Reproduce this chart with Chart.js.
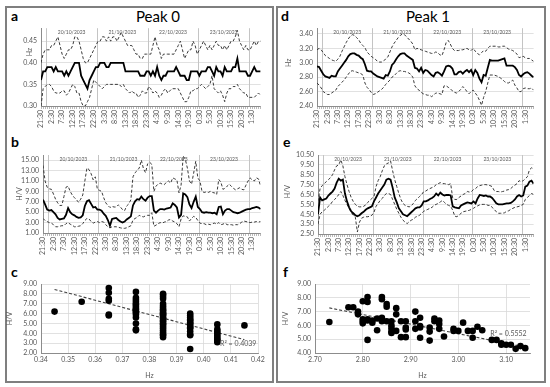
<!DOCTYPE html>
<html>
<head>
<meta charset="utf-8">
<script src="https://cdn.jsdelivr.net/npm/chart.js@4.4.1/dist/chart.umd.min.js"></script>
<style>
    body { margin: 0; background: #fff; width: 550px; height: 387px; position: relative; overflow: hidden; font-family: Lato, "Liberation Sans", sans-serif; }
    .frame { position: absolute; border: 2px solid #7f7f7f; box-sizing: border-box; }
    canvas { position: absolute; }
    .tag { position: absolute; font-weight: bold; font-size: 14px; line-height: 14px; color: #000; }
    .ttl { position: absolute; font-size: 15px; line-height: 15px; color: #000; transform: translateX(-50%); white-space: nowrap; }
</style>
</head>
<body>
<div class="frame" style="left:5px;top:6px;width:269px;height:377px"></div>
<div class="frame" style="left:276px;top:6px;width:270px;height:377px"></div>
<div class="tag" style="left:11px;top:9px">a</div>
<div class="tag" style="left:11px;top:135px">b</div>
<div class="tag" style="left:11px;top:265px">c</div>
<div class="tag" style="left:281px;top:9px">d</div>
<div class="tag" style="left:283px;top:135px">e</div>
<div class="tag" style="left:283px;top:265px">f</div>
<div class="ttl" style="left:158px;top:9px">Peak 0</div>
<div class="ttl" style="left:428px;top:9px">Peak 1</div>
<canvas id="chartA"></canvas>
<canvas id="chartB"></canvas>
<canvas id="chartC"></canvas>
<canvas id="chartD"></canvas>
<canvas id="chartE"></canvas>
<canvas id="chartF"></canvas>
<script>
// hourly series, 21:30 on 19/10/2023 to 5:30 on 24/10/2023
const timeLabels = ['21:30', '2:30', '7:30', '12:30', '17:30', '22:30', '3:30', '8:30', '13:30', '18:30', '23:30',
    '4:30', '9:30', '14:30', '19:30', '0:30', '5:30', '10:30', '15:30', '20:30', '1:30'];
const dayLabels = ['20/10/2023', '21/10/2023', '22/10/2023', '23/10/2023'];
const midnights = [2.5, 26.5, 50.5, 74.5, 98.5]; // hours after the first sample

// Peak 0 - frequency (Hz)
const aMean = [0.36, 0.38, 0.38, 0.39, 0.39, 0.39, 0.38, 0.39, 0.38, 0.38,
    0.38, 0.37, 0.38, 0.37, 0.38, 0.39, 0.40, 0.40, 0.40, 0.37,
    0.36, 0.35, 0.34, 0.36, 0.37, 0.38, 0.39, 0.39, 0.40, 0.40,
    0.40, 0.39, 0.39, 0.40, 0.40, 0.40, 0.40, 0.40, 0.40, 0.40,
    0.38, 0.38, 0.38, 0.38, 0.38, 0.38, 0.38, 0.37, 0.37, 0.37,
    0.38, 0.38, 0.37, 0.38, 0.37, 0.39, 0.37, 0.36, 0.37, 0.37,
    0.38, 0.38, 0.38, 0.38, 0.39, 0.38, 0.37, 0.37, 0.37, 0.36,
    0.36, 0.38, 0.38, 0.38, 0.38, 0.37, 0.38, 0.38, 0.38, 0.39,
    0.39, 0.38, 0.37, 0.39, 0.38, 0.38, 0.37, 0.39, 0.38, 0.38,
    0.38, 0.39, 0.39, 0.41, 0.38, 0.38, 0.38, 0.38, 0.37, 0.37,
    0.38, 0.39, 0.38, 0.38, 0.38];
const aUpper = [0.40, 0.42, 0.43, 0.43, 0.43, 0.44, 0.44, 0.45, 0.46, 0.44,
    0.42, 0.41, 0.42, 0.43, 0.43, 0.44, 0.46, 0.46, 0.45, 0.43,
    0.41, 0.40, 0.40, 0.41, 0.42, 0.43, 0.44, 0.45, 0.45, 0.46,
    0.46, 0.45, 0.46, 0.45, 0.46, 0.46, 0.45, 0.46, 0.47, 0.46,
    0.45, 0.44, 0.44, 0.44, 0.43, 0.42, 0.42, 0.41, 0.41, 0.42,
    0.42, 0.42, 0.42, 0.44, 0.46, 0.44, 0.43, 0.41, 0.42, 0.42,
    0.42, 0.42, 0.42, 0.42, 0.43, 0.44, 0.45, 0.43, 0.41, 0.42,
    0.43, 0.43, 0.45, 0.44, 0.42, 0.43, 0.44, 0.45, 0.44, 0.43,
    0.44, 0.43, 0.44, 0.45, 0.44, 0.44, 0.43, 0.44, 0.43, 0.44,
    0.45, 0.45, 0.46, 0.475, 0.45, 0.44, 0.43, 0.44, 0.43, 0.43,
    0.44, 0.45, 0.44, 0.45, 0.45];
const aLower = [0.30, 0.34, 0.345, 0.35, 0.35, 0.345, 0.335, 0.33, 0.33, 0.33,
    0.335, 0.335, 0.325, 0.33, 0.34, 0.35, 0.345, 0.33, 0.33, 0.31,
    0.30, 0.30, 0.31, 0.32, 0.34, 0.36, 0.355, 0.35, 0.345, 0.34,
    0.345, 0.35, 0.35, 0.35, 0.35, 0.35, 0.35, 0.35, 0.345, 0.35,
    0.34, 0.335, 0.33, 0.335, 0.33, 0.33, 0.32, 0.325, 0.335, 0.33,
    0.33, 0.345, 0.34, 0.33, 0.335, 0.33, 0.32, 0.325, 0.335, 0.34,
    0.33, 0.335, 0.34, 0.34, 0.34, 0.34, 0.33, 0.32, 0.31, 0.31,
    0.32, 0.335, 0.335, 0.34, 0.34, 0.345, 0.35, 0.345, 0.34, 0.345,
    0.35, 0.37, 0.34, 0.335, 0.33, 0.335, 0.325, 0.31, 0.33, 0.34,
    0.34, 0.345, 0.345, 0.35, 0.34, 0.335, 0.33, 0.33, 0.32, 0.32,
    0.32, 0.32, 0.325, 0.33, 0.325];

// Peak 0 - amplitude (H/V)
const bMean = [7.4, 6.5, 5.5, 5.3, 5.4, 5.0, 4.6, 3.9, 3.6, 3.7,
    3.8, 4.5, 5.8, 5.0, 4.6, 4.4, 4.1, 3.9, 4.0, 4.4,
    6.2, 7.1, 7.3, 6.6, 5.9, 6.0, 5.5, 5.5, 5.3, 4.7,
    4.3, 3.5, 2.4, 3.7, 3.8, 3.9, 3.5, 3.2, 3.0, 3.2,
    3.6, 3.9, 4.2, 6.3, 7.1, 7.5, 7.4, 8.0, 7.5, 7.2,
    7.8, 8.1, 8.1, 5.3, 4.9, 5.3, 5.6, 5.6, 5.5, 5.7,
    5.8, 5.9, 6.7, 6.4, 5.9, 4.0, 4.5, 8.6, 8.4, 7.9,
    6.5, 5.8, 7.0, 8.0, 6.0, 5.6, 5.0, 4.9, 5.0, 4.9,
    4.9, 4.8, 4.9, 4.6, 6.0, 6.1, 4.6, 5.3, 5.6, 5.6,
    5.3, 5.0, 4.9, 4.8, 4.9, 5.1, 5.3, 5.5, 5.6, 5.6,
    5.8, 5.9, 6.0, 5.9, 5.6];
const bUpper = [14.0, 11.0, 9.8, 9.5, 9.4, 8.5, 7.5, 6.8, 6.3, 6.3,
    8.0, 9.8, 10.0, 9.0, 8.3, 7.8, 7.4, 6.9, 7.5, 8.3,
    11.0, 13.5, 13.2, 12.4, 11.2, 11.8, 9.4, 9.2, 9.0, 7.8,
    6.8, 6.3, 5.9, 6.1, 6.0, 6.0, 6.4, 6.0, 5.5, 5.3,
    6.2, 6.6, 7.4, 11.8, 12.6, 13.0, 13.5, 15.0, 13.4, 12.6,
    14.3, 14.6, 14.2, 9.0, 10.0, 10.4, 10.6, 10.4, 10.3, 10.8,
    11.0, 10.6, 11.6, 11.4, 11.2, 8.7, 10.2, 15.8, 15.2, 13.5,
    11.0, 10.4, 12.5, 14.8, 11.6, 11.0, 9.0, 8.8, 8.9, 8.8,
    9.0, 8.8, 8.7, 8.4, 11.3, 10.8, 9.4, 9.6, 10.0, 10.4,
    10.0, 9.6, 9.3, 9.5, 9.7, 9.4, 9.3, 10.2, 11.0, 11.6,
    11.2, 11.0, 11.6, 11.4, 10.0];
const bLower = [3.8, 3.4, 3.2, 3.0, 2.9, 2.6, 2.2, 2.2, 2.3, 2.4,
    2.4, 2.8, 3.0, 2.7, 2.5, 2.2, 2.2, 2.3, 2.4, 2.8,
    3.4, 3.8, 3.7, 3.2, 2.9, 3.1, 3.2, 3.0, 3.2, 3.1,
    2.6, 2.2, 2.0, 2.2, 2.2, 2.2, 2.1, 2.0, 1.9, 1.9,
    2.0, 2.2, 2.4, 3.5, 3.8, 4.0, 4.4, 4.2, 4.1, 4.3,
    4.4, 4.4, 4.9, 2.3, 2.5, 2.8, 3.0, 2.9, 3.1, 3.2,
    3.5, 3.6, 3.3, 3.1, 2.8, 2.2, 3.7, 4.3, 4.2, 4.1,
    3.3, 3.8, 4.2, 4.0, 3.4, 2.9, 2.8, 2.8, 2.6, 2.7,
    2.6, 2.8, 2.9, 2.7, 3.0, 2.6, 2.7, 2.9, 2.6, 2.6,
    2.6, 2.5, 2.6, 2.6, 2.8, 3.1, 3.3, 3.2, 3.1, 3.0,
    3.1, 3.1, 3.2, 3.1, 3.2];

// Peak 1 - frequency (Hz)
const dMean = [2.95, 2.94, 2.89, 2.84, 2.81, 2.80, 2.79, 2.82, 2.81, 2.81,
    2.88, 2.92, 2.96, 3.00, 3.04, 3.09, 3.12, 3.13, 3.13, 3.11,
    3.10, 3.07, 3.05, 2.98, 2.89, 2.88, 2.88, 2.85, 2.83, 2.81,
    2.80, 2.79, 2.78, 2.83, 2.82, 2.88, 2.97, 3.00, 3.05, 3.09,
    3.12, 3.13, 3.13, 3.10, 3.08, 3.06, 3.04, 2.93, 2.92, 2.88,
    2.93, 2.86, 2.90, 2.89, 2.86, 2.83, 2.81, 2.86, 2.87, 2.85,
    2.82, 2.88, 2.95, 2.96, 2.95, 2.92, 2.84, 2.84, 2.87, 2.88,
    2.85, 2.88, 2.90, 2.87, 2.90, 2.83, 2.90, 2.86, 2.78, 2.73,
    2.83, 2.82, 2.93, 3.04, 3.03, 3.03, 3.03, 3.03, 3.04, 3.05,
    3.06, 2.96, 2.96, 2.96, 2.96, 2.94, 2.90, 2.83, 2.81, 2.84,
    2.86, 2.87, 2.85, 2.82, 2.80];
const dUpper = [3.18, 3.20, 3.18, 3.14, 3.10, 3.08, 3.06, 3.04, 3.03, 3.02,
    3.05, 3.09, 3.16, 3.22, 3.28, 3.33, 3.37, 3.39, 3.38, 3.35,
    3.32, 3.27, 3.24, 3.21, 3.15, 3.12, 3.09, 3.07, 3.05, 3.02,
    3.01, 3.01, 3.03, 3.05, 3.08, 3.15, 3.22, 3.27, 3.31, 3.35,
    3.38, 3.40, 3.39, 3.36, 3.33, 3.30, 3.26, 3.18, 3.20, 3.19,
    3.18, 3.17, 3.16, 3.15, 3.14, 3.13, 3.13, 3.15, 3.14, 3.11,
    3.10, 3.18, 3.28, 3.31, 3.26, 3.20, 3.17, 3.17, 3.17, 3.18,
    3.18, 3.19, 3.20, 3.18, 3.17, 3.20, 3.16, 3.13, 3.11, 3.14,
    3.17, 3.16, 3.20, 3.23, 3.23, 3.23, 3.23, 3.22, 3.22, 3.23,
    3.23, 3.21, 3.19, 3.18, 3.17, 3.15, 3.12, 3.07, 3.08, 3.09,
    3.07, 3.06, 3.06, 3.04, 3.02];
const dLower = [2.72, 2.69, 2.65, 2.60, 2.58, 2.56, 2.56, 2.58, 2.60, 2.62,
    2.67, 2.70, 2.73, 2.76, 2.80, 2.84, 2.88, 2.89, 2.88, 2.87,
    2.86, 2.85, 2.83, 2.72, 2.66, 2.63, 2.59, 2.56, 2.57, 2.59,
    2.61, 2.63, 2.66, 2.70, 2.73, 2.76, 2.80, 2.82, 2.85, 2.88,
    2.89, 2.88, 2.88, 2.87, 2.86, 2.84, 2.80, 2.68, 2.64, 2.62,
    2.59, 2.57, 2.56, 2.55, 2.55, 2.53, 2.55, 2.58, 2.58, 2.57,
    2.56, 2.68, 2.68, 2.66, 2.64, 2.61, 2.59, 2.58, 2.60, 2.63,
    2.67, 2.64, 2.60, 2.57, 2.60, 2.62, 2.58, 2.54, 2.48, 2.41,
    2.52, 2.60, 2.72, 2.83, 2.83, 2.83, 2.82, 2.81, 2.79, 2.77,
    2.74, 2.72, 2.72, 2.74, 2.76, 2.69, 2.65, 2.60, 2.60, 2.64,
    2.65, 2.64, 2.64, 2.65, 2.62];

// Peak 1 - amplitude (H/V)
const eMean = [4.5, 6.2, 5.9, 6.0, 6.1, 6.4, 6.6, 6.8, 7.1, 7.7,
    8.1, 7.9, 8.0, 6.6, 5.8, 5.2, 4.8, 4.6, 4.4, 4.3,
    4.4, 4.6, 4.75, 4.95, 5.1, 5.2, 5.3, 5.8, 6.2, 6.6,
    6.9, 7.2, 7.5, 8.0, 8.1, 8.0, 7.2, 6.2, 5.7, 5.1,
    4.8, 4.5, 4.4, 4.3, 4.5, 4.7, 4.9, 5.1, 5.2, 5.2,
    5.4, 5.8, 5.8, 5.9, 6.05, 6.15, 6.3, 6.6, 6.4, 6.7,
    6.5, 6.4, 6.45, 6.45, 6.4, 5.3, 5.2, 5.15, 5.1, 5.4,
    5.5, 5.6, 5.7, 5.65, 5.6, 5.8, 5.6, 6.1, 6.45, 6.4,
    6.35, 6.4, 6.3, 6.3, 6.15, 5.9, 5.6, 5.5, 5.5, 5.5,
    5.55, 5.6, 5.6, 5.65, 5.8, 6.0, 6.3, 6.45, 6.3, 6.4,
    7.3, 7.4, 7.8, 7.9, 7.6];
const eUpper = [5.8, 7.1, 7.4, 7.6, 7.8, 8.0, 8.2, 8.5, 9.0, 9.4,
    9.5, 10.0, 9.4, 8.3, 7.5, 6.8, 6.2, 5.8, 5.5, 5.3,
    5.25, 5.25, 5.3, 5.45, 5.7, 5.9, 6.1, 6.3, 7.3, 7.9,
    8.3, 8.9, 9.4, 9.6, 9.7, 9.9, 8.9, 8.0, 7.3, 6.6,
    6.0, 5.6, 5.4, 5.3, 5.25, 5.35, 5.6, 5.9, 6.1, 6.3,
    6.5, 6.8, 6.85, 7.0, 7.1, 7.2, 7.3, 7.5, 7.6, 7.7,
    7.6, 7.6, 7.55, 7.5, 7.6, 6.1, 6.0, 6.0, 6.2, 6.35,
    6.5, 6.6, 6.8, 6.75, 6.8, 7.0, 7.1, 7.3, 7.4, 7.45,
    7.5, 7.5, 7.45, 7.4, 7.3, 6.9, 6.8, 6.8, 6.75, 6.8,
    6.85, 6.95, 7.0, 7.1, 7.3, 7.45, 7.6, 7.9, 7.8, 7.9,
    8.1, 8.3, 9.0, 9.2, 9.1];
const eLower = [3.5, 4.5, 4.75, 4.9, 5.1, 5.3, 5.5, 5.8, 6.0, 6.2,
    6.5, 6.8, 6.4, 5.9, 5.5, 5.1, 4.7, 4.4, 4.2, 2.7,
    3.7, 4.1, 4.2, 4.25, 4.25, 4.3, 4.4, 4.7, 5.3, 5.6,
    5.9, 6.1, 6.4, 6.6, 6.6, 6.5, 6.0, 5.5, 5.0, 4.6,
    4.2, 3.9, 3.7, 3.55, 3.75, 3.9, 4.0, 4.2, 4.3, 4.4,
    4.6, 4.8, 4.9, 5.0, 5.1, 5.2, 5.4, 5.5, 5.6, 5.75,
    5.9, 5.7, 5.5, 5.4, 5.3, 4.9, 4.3, 4.25, 4.4, 4.6,
    4.75, 4.8, 4.85, 4.9, 5.0, 5.1, 5.25, 5.35, 5.45, 5.5,
    5.5, 5.5, 5.4, 5.4, 5.2, 5.0, 4.75, 4.6, 4.6, 4.6,
    4.65, 4.8, 4.85, 5.0, 5.1, 5.2, 5.25, 5.3, 5.4, 5.5,
    6.0, 6.2, 6.4, 6.6, 6.5];

// scatter c: Hz vs H/V, Peak 0
const cHz = [0.345, 0.355,
    0.365, 0.365, 0.365, 0.365, 0.365, 0.365,
    0.375, 0.375, 0.375, 0.375, 0.375, 0.375, 0.375, 0.375, 0.375, 0.375, 0.375, 0.375, 0.375, 0.375, 0.375, 0.375,
    0.385, 0.385, 0.385, 0.385, 0.385, 0.385, 0.385, 0.385, 0.385, 0.385, 0.385, 0.385, 0.385,
    0.385, 0.385, 0.385, 0.385, 0.385, 0.385, 0.385, 0.385, 0.385, 0.385, 0.385, 0.385, 0.385,
    0.395, 0.395, 0.395, 0.395, 0.395, 0.395, 0.395, 0.395, 0.395, 0.395, 0.395, 0.395, 0.395, 0.395,
    0.405, 0.405, 0.405, 0.405, 0.405, 0.405, 0.405, 0.405, 0.405,
    0.415];
const cHV = [6.2, 7.2,
    8.6, 8.1, 7.5, 7.3, 5.9, 5.8,
    8.2, 7.6, 7.4, 7.2, 7.0, 6.9, 6.7, 6.5, 6.4, 6.2, 6.1, 5.9, 5.6, 5.0, 4.4, 4.3,
    8.0, 7.9, 7.7, 7.5, 7.0, 6.8, 6.6, 6.4, 6.3, 6.1, 6.0, 5.9, 5.8,
    5.6, 5.5, 5.3, 5.2, 5.0, 4.9, 4.7, 4.5, 4.3, 4.1, 3.9, 3.8, 3.6,
    6.0, 5.8, 5.6, 5.4, 5.3, 5.1, 5.0, 4.8, 4.6, 4.5, 4.2, 3.9, 3.8, 2.4,
    4.9, 4.4, 4.2, 4.0, 3.8, 3.6, 3.4, 3.3, 3.1,
    4.8];
const cTrendHz = [0.345, 0.415];
const cTrendHV = [8.45, 3.35];

// scatter f: Hz vs H/V, Peak 1
const fHz = [2.73, 2.77, 2.78, 2.79, 2.79, 2.80, 2.80, 2.80, 2.80, 2.81, 2.81, 2.81, 2.81, 2.81,
    2.82, 2.82, 2.83, 2.83, 2.84, 2.84, 2.84, 2.84, 2.85, 2.85, 2.85,
    2.86, 2.86, 2.86, 2.86, 2.86, 2.87, 2.87, 2.87, 2.88, 2.88, 2.89, 2.89, 2.89, 2.89,
    2.91, 2.91, 2.91, 2.92, 2.92, 2.92, 2.92, 2.94, 2.94, 2.94, 2.95, 2.95,
    2.96, 2.96, 2.96, 2.97, 2.99, 2.99, 3.00, 3.01, 3.02, 3.03, 3.03, 3.04, 3.05,
    3.07, 3.08, 3.09, 3.09, 3.10, 3.11, 3.12, 3.13, 3.14];
const fHV = [6.25, 7.32, 7.32, 7.0, 6.8, 7.75, 6.45, 6.3, 6.15, 8.05, 7.7, 6.45, 6.35, 4.95,
    6.35, 6.2, 6.5, 5.65, 8.05, 7.9, 6.55, 6.3, 7.55, 7.35, 6.3,
    6.3, 6.0, 5.8, 5.55, 5.45, 7.25, 6.8, 5.6, 6.3, 5.15, 6.3, 5.85, 5.7, 5.15,
    7.0, 6.3, 5.75, 6.55, 5.95, 5.85, 5.1, 5.85, 5.55, 4.9, 6.5, 6.3,
    6.35, 6.1, 5.75, 5.2, 5.75, 5.6, 5.6, 6.2, 5.6, 5.6, 5.1, 5.9, 5.65,
    4.95, 4.95, 4.7, 4.6, 4.6, 4.6, 4.3, 4.5, 4.35];
const fTrendHz = [2.73, 3.14];
const fTrendHV = [7.27, 4.43];

const aTicks = [0.30, 0.35, 0.40, 0.45];
const bTicks = [1, 3, 5, 7, 9, 11, 13, 15];
const dTicks = [2.4, 2.6, 2.8, 3.0, 3.2, 3.4];
const eTicks = [2.5, 3.5, 4.5, 5.5, 6.5, 7.5, 8.5, 9.5, 10.5];
const cXTicks = [0.34, 0.35, 0.36, 0.37, 0.38, 0.39, 0.40, 0.41, 0.42];
const cYTicks = [2, 3, 4, 5, 6, 7, 8, 9];
const fXTicks = [2.7, 2.8, 2.9, 3.0, 3.1];
const fYTicks = [4, 5, 6, 7, 8, 9];

Chart.defaults.font.family = 'Lato, "Liberation Sans", sans-serif';
Chart.defaults.font.size = 7;
Chart.defaults.color = '#595959';

// canvas box (x, y, w, h), plot area (l, r, t, b), left edge of the y axis box (tx),
// y caption centre (cx) and the axis value it sits at (cAt)
const geo = {
    a: { x: 8, y: 20, w: 262, h: 114, l: 41, r: 263, t: 28, b: 106, tx: 23, cx: 30, cAt: 0.425 },
    b: { x: 8, y: 138, w: 262, h: 120, l: 43, r: 263, t: 155, b: 233, tx: 12, cx: 20, cAt: 8.5 },
    c: { x: 6, y: 270, w: 264, h: 110, l: 41, r: 258, t: 284, b: 353, tx: 6 },
    d: { x: 279, y: 20, w: 264, h: 114, l: 317, r: 538, t: 28, b: 106, tx: 281, cx: 289, cAt: 3.0 },
    e: { x: 279, y: 138, w: 264, h: 120, l: 318, r: 537, t: 155, b: 234, tx: 280, cx: 288, cAt: 6.8 },
    f: { x: 279, y: 270, w: 264, h: 110, l: 315, r: 530, t: 284, b: 353, tx: 282 }
};

function placeCanvas(id, g) {
    const c = document.getElementById(id);
    c.width = g.w;
    c.height = g.h;
    c.style.left = g.x + 'px';
    c.style.top = g.y + 'px';
    return c;
}

function layoutFor(g) {
    return { padding: { left: g.tx - g.x, right: g.x + g.w - g.r, top: g.t - g.y, bottom: 0 } };
}

// day separators and date captions inside the time plots
const daySplit = {
    id: 'daySplit',
    beforeDatasetsDraw(chart) {
        const { ctx, chartArea: a, scales: { x } } = chart;
        ctx.save();
        ctx.strokeStyle = '#c4c4c4';
        ctx.lineWidth = 1;
        midnights.forEach(h => {
            const px = Math.round(x.getPixelForValue(h)) + 0.5;
            ctx.beginPath();
            ctx.moveTo(px, a.top);
            ctx.lineTo(px, a.bottom);
            ctx.stroke();
        });
        ctx.fillStyle = '#595959';
        ctx.font = '5px Lato, "Liberation Sans", sans-serif';
        ctx.textAlign = 'center';
        ctx.textBaseline = 'top';
        dayLabels.forEach((d, k) => {
            const cx = (x.getPixelForValue(midnights[k]) + x.getPixelForValue(midnights[k + 1])) / 2;
            ctx.fillText(d, cx, a.top + 2);
        });
        ctx.restore();
    }
};

// rotated y caption for the time plots
const yCaption = {
    id: 'yCaption',
    afterDraw(chart, args, opts) {
        const { ctx, scales: { y } } = chart;
        ctx.save();
        ctx.fillStyle = '#595959';
        ctx.font = '7px Lato, "Liberation Sans", sans-serif';
        ctx.textAlign = 'center';
        ctx.textBaseline = 'middle';
        ctx.translate(opts.x, y.getPixelForValue(opts.at));
        ctx.rotate(-Math.PI / 2);
        ctx.fillText(opts.text, 0, 0);
        ctx.restore();
    }
};

// R² caption next to the trend line
const r2Label = {
    id: 'r2Label',
    afterDatasetsDraw(chart, args, opts) {
        const { ctx, scales: { x, y } } = chart;
        ctx.save();
        ctx.fillStyle = '#595959';
        ctx.font = '7px Lato, "Liberation Sans", sans-serif';
        ctx.textAlign = 'right';
        ctx.textBaseline = 'middle';
        ctx.fillText(opts.text, x.getPixelForValue(opts.x), y.getPixelForValue(opts.y));
        ctx.restore();
    }
};

function timeChart(id, g, yTicks, yMin, yMax, yTitle, upper, mean, lower) {
    const pts = arr => arr.map((v, i) => ({ x: i, y: v }));
    const dashed = arr => ({
        data: pts(arr), borderColor: '#3a3a3a', borderWidth: 1, borderDash: [3, 2],
        pointRadius: 0, tension: 0
    });
    return new Chart(placeCanvas(id, g), {
        type: 'line',
        data: {
            datasets: [
                dashed(upper),
                { data: pts(mean), borderColor: '#000', borderWidth: 1.8, pointRadius: 0, tension: 0 },
                dashed(lower)
            ]
        },
        options: {
            responsive: false,
            animation: false,
            layout: layoutFor(g),
            plugins: {
                legend: { display: false },
                tooltip: { enabled: false },
                yCaption: { text: yTitle, x: g.cx - g.x, at: g.cAt }
            },
            scales: {
                x: {
                    type: 'linear',
                    min: 0,
                    max: mean.length - 1,
                    afterBuildTicks: s => { s.ticks = mean.map((_, i) => ({ value: i })); },
                    afterFit: s => { s.height = g.y + g.h - g.b; },
                    ticks: {
                        autoSkip: false, minRotation: 90, maxRotation: 90, padding: 1,
                        callback: v => (v % 5 === 0 ? timeLabels[v / 5] : '')
                    },
                    grid: { drawOnChartArea: false, tickLength: 3, color: '#8c8c8c', lineWidth: 0.6 },
                    border: { color: '#8c8c8c' }
                },
                y: {
                    min: yMin,
                    max: yMax,
                    afterBuildTicks: s => { s.ticks = yTicks.map(v => ({ value: v })); },
                    afterFit: s => { s.width = g.l - g.tx; },
                    ticks: { autoSkip: false, padding: 4, callback: v => v.toFixed(2) },
                    grid: { color: '#d9d9d9', lineWidth: 0.8, drawTicks: false },
                    border: { color: '#8c8c8c' }
                }
            }
        },
        plugins: [daySplit, yCaption]
    });
}

function scatterChart(id, g, hz, hv, trendHz, trendHV, xTicks, xMin, xMax, yTicks, yMin, yMax, r2) {
    return new Chart(placeCanvas(id, g), {
        type: 'scatter',
        data: {
            datasets: [
                {
                    data: hz.map((v, i) => ({ x: v, y: hv[i] })),
                    backgroundColor: '#000', borderColor: '#000', pointRadius: 3.3, pointBorderWidth: 0
                },
                {
                    type: 'line',
                    data: trendHz.map((v, i) => ({ x: v, y: trendHV[i] })),
                    borderColor: '#404040', borderWidth: 1.1, borderDash: [3, 2], pointRadius: 0
                }
            ]
        },
        options: {
            responsive: false,
            animation: false,
            layout: layoutFor(g),
            plugins: { legend: { display: false }, tooltip: { enabled: false }, r2Label: r2 },
            scales: {
                x: {
                    type: 'linear',
                    min: xMin,
                    max: xMax,
                    afterBuildTicks: s => { s.ticks = xTicks.map(v => ({ value: v })); },
                    afterFit: s => { s.height = g.y + g.h - g.b; },
                    ticks: { autoSkip: false, padding: 3, maxRotation: 0, callback: v => v.toFixed(2) },
                    grid: { color: '#d9d9d9', lineWidth: 0.8, drawTicks: false },
                    border: { color: '#8c8c8c' },
                    title: { display: true, text: 'Hz', padding: { top: 4, bottom: 0 } }
                },
                y: {
                    min: yMin,
                    max: yMax,
                    afterBuildTicks: s => { s.ticks = yTicks.map(v => ({ value: v })); },
                    afterFit: s => { s.width = g.l - g.tx; },
                    ticks: { autoSkip: false, padding: 4, callback: v => v.toFixed(2) },
                    grid: { color: '#d9d9d9', lineWidth: 0.8, drawTicks: false },
                    border: { color: '#8c8c8c' },
                    title: { display: true, text: 'H/V', padding: 0 }
                }
            }
        },
        plugins: [r2Label]
    });
}

timeChart('chartA', geo.a, aTicks, 0.30, 0.48, 'Hz', aUpper, aMean, aLower);
timeChart('chartB', geo.b, bTicks, 1, 16, 'H/V', bUpper, bMean, bLower);
timeChart('chartD', geo.d, dTicks, 2.4, 3.48, 'Hz', dUpper, dMean, dLower);
timeChart('chartE', geo.e, eTicks, 2.5, 10.5, 'H/V', eUpper, eMean, eLower);
scatterChart('chartC', geo.c, cHz, cHV, cTrendHz, cTrendHV, cXTicks, 0.34, 0.42, cYTicks, 2, 9,
    { text: 'R² = 0.4039', x: 0.4194, y: 2.9 });
scatterChart('chartF', geo.f, fHz, fHV, fTrendHz, fTrendHV, fXTicks, 2.7, 3.15, fYTicks, 4, 9,
    { text: 'R² = 0.5552', x: 3.143, y: 5.4 });
</script>
</body>
</html>
